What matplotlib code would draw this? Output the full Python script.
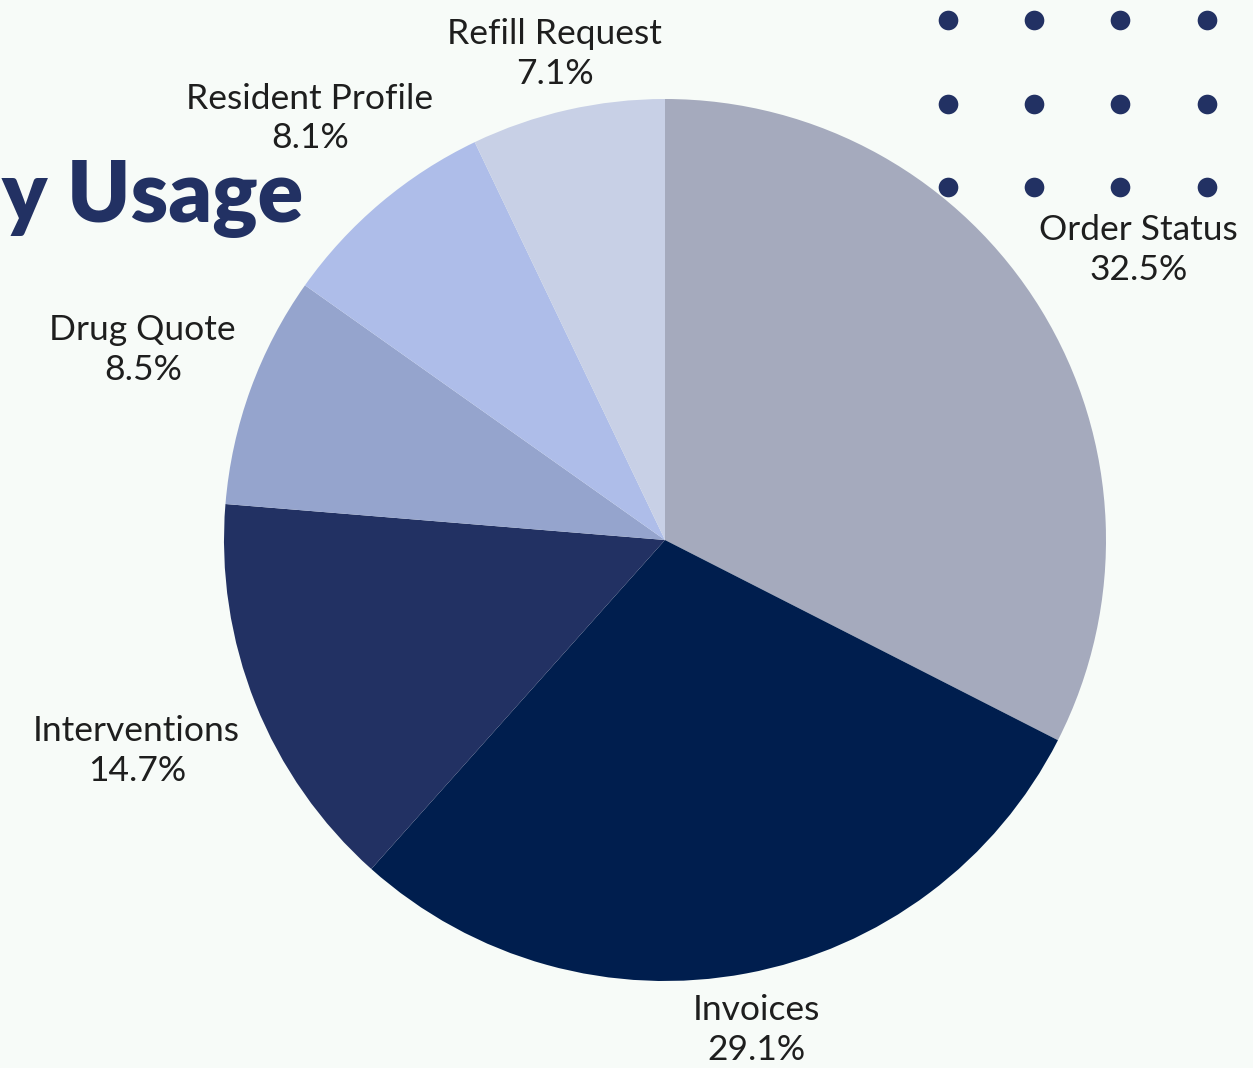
import numpy as np
import matplotlib.pyplot as plt

# slices, clockwise from 12 o'clock
labels = ['Order Status', 'Invoices', 'Interventions', 'Drug Quote',
          'Resident Profile', 'Refill Request']
shares = [32.5, 29.1, 14.7, 8.5, 8.1, 7.1]
colors = ['#a5aabd', '#001e4e', '#223163', '#95a4cd', '#aebde9', '#c8d0e6']
label_dist = [1.26, 1.13, 1.29, 1.26, 1.25, 1.13]

dot_cols = [948, 1034, 1120, 1207]
dot_rows = [20, 104, 187]

W, H = 1253, 1068
bg = '#f7fbf8'
navy = '#223163'

fig = plt.figure(figsize=(W / 100, H / 100), dpi=100, facecolor=bg)
ax = fig.add_axes([0, 0, 1, 1])
ax.set_facecolor(bg)

cx, cy, r = 665, H - 540, 441
wedges, _ = ax.pie(shares, colors=colors, startangle=90, counterclock=False,
                   center=(cx, cy), radius=r, frame=True,
                   wedgeprops=dict(linewidth=0))
ax.set_xlim(0, W)
ax.set_ylim(0, H)
ax.set_aspect('equal')
ax.axis('off')

start = 90.0
for lab, val, d in zip(labels, shares, label_dist):
    mid = np.deg2rad(start - val * 3.6 / 2)
    start -= val * 3.6
    x = cx + r * d * np.cos(mid)
    y = cy + r * d * np.sin(mid)
    ax.text(x, y, f'{lab}\n{val}%', ha='center', va='center',
            fontsize=25.5, family='Lato', color='#1e1e1e', linespacing=1.3)

xx, yy = np.meshgrid(dot_cols, dot_rows)
ax.scatter(xx.ravel(), H - yy.ravel(), s=200, color=navy, zorder=5, linewidths=0)

# heading runs off the left edge, as in the source slide
ax.text(303, H - 222, 'by Usage', ha='right', va='baseline', fontsize=61,
        family='Lato', fontweight='heavy', color=navy)

fig.savefig('out.png', dpi=100, facecolor=bg)
